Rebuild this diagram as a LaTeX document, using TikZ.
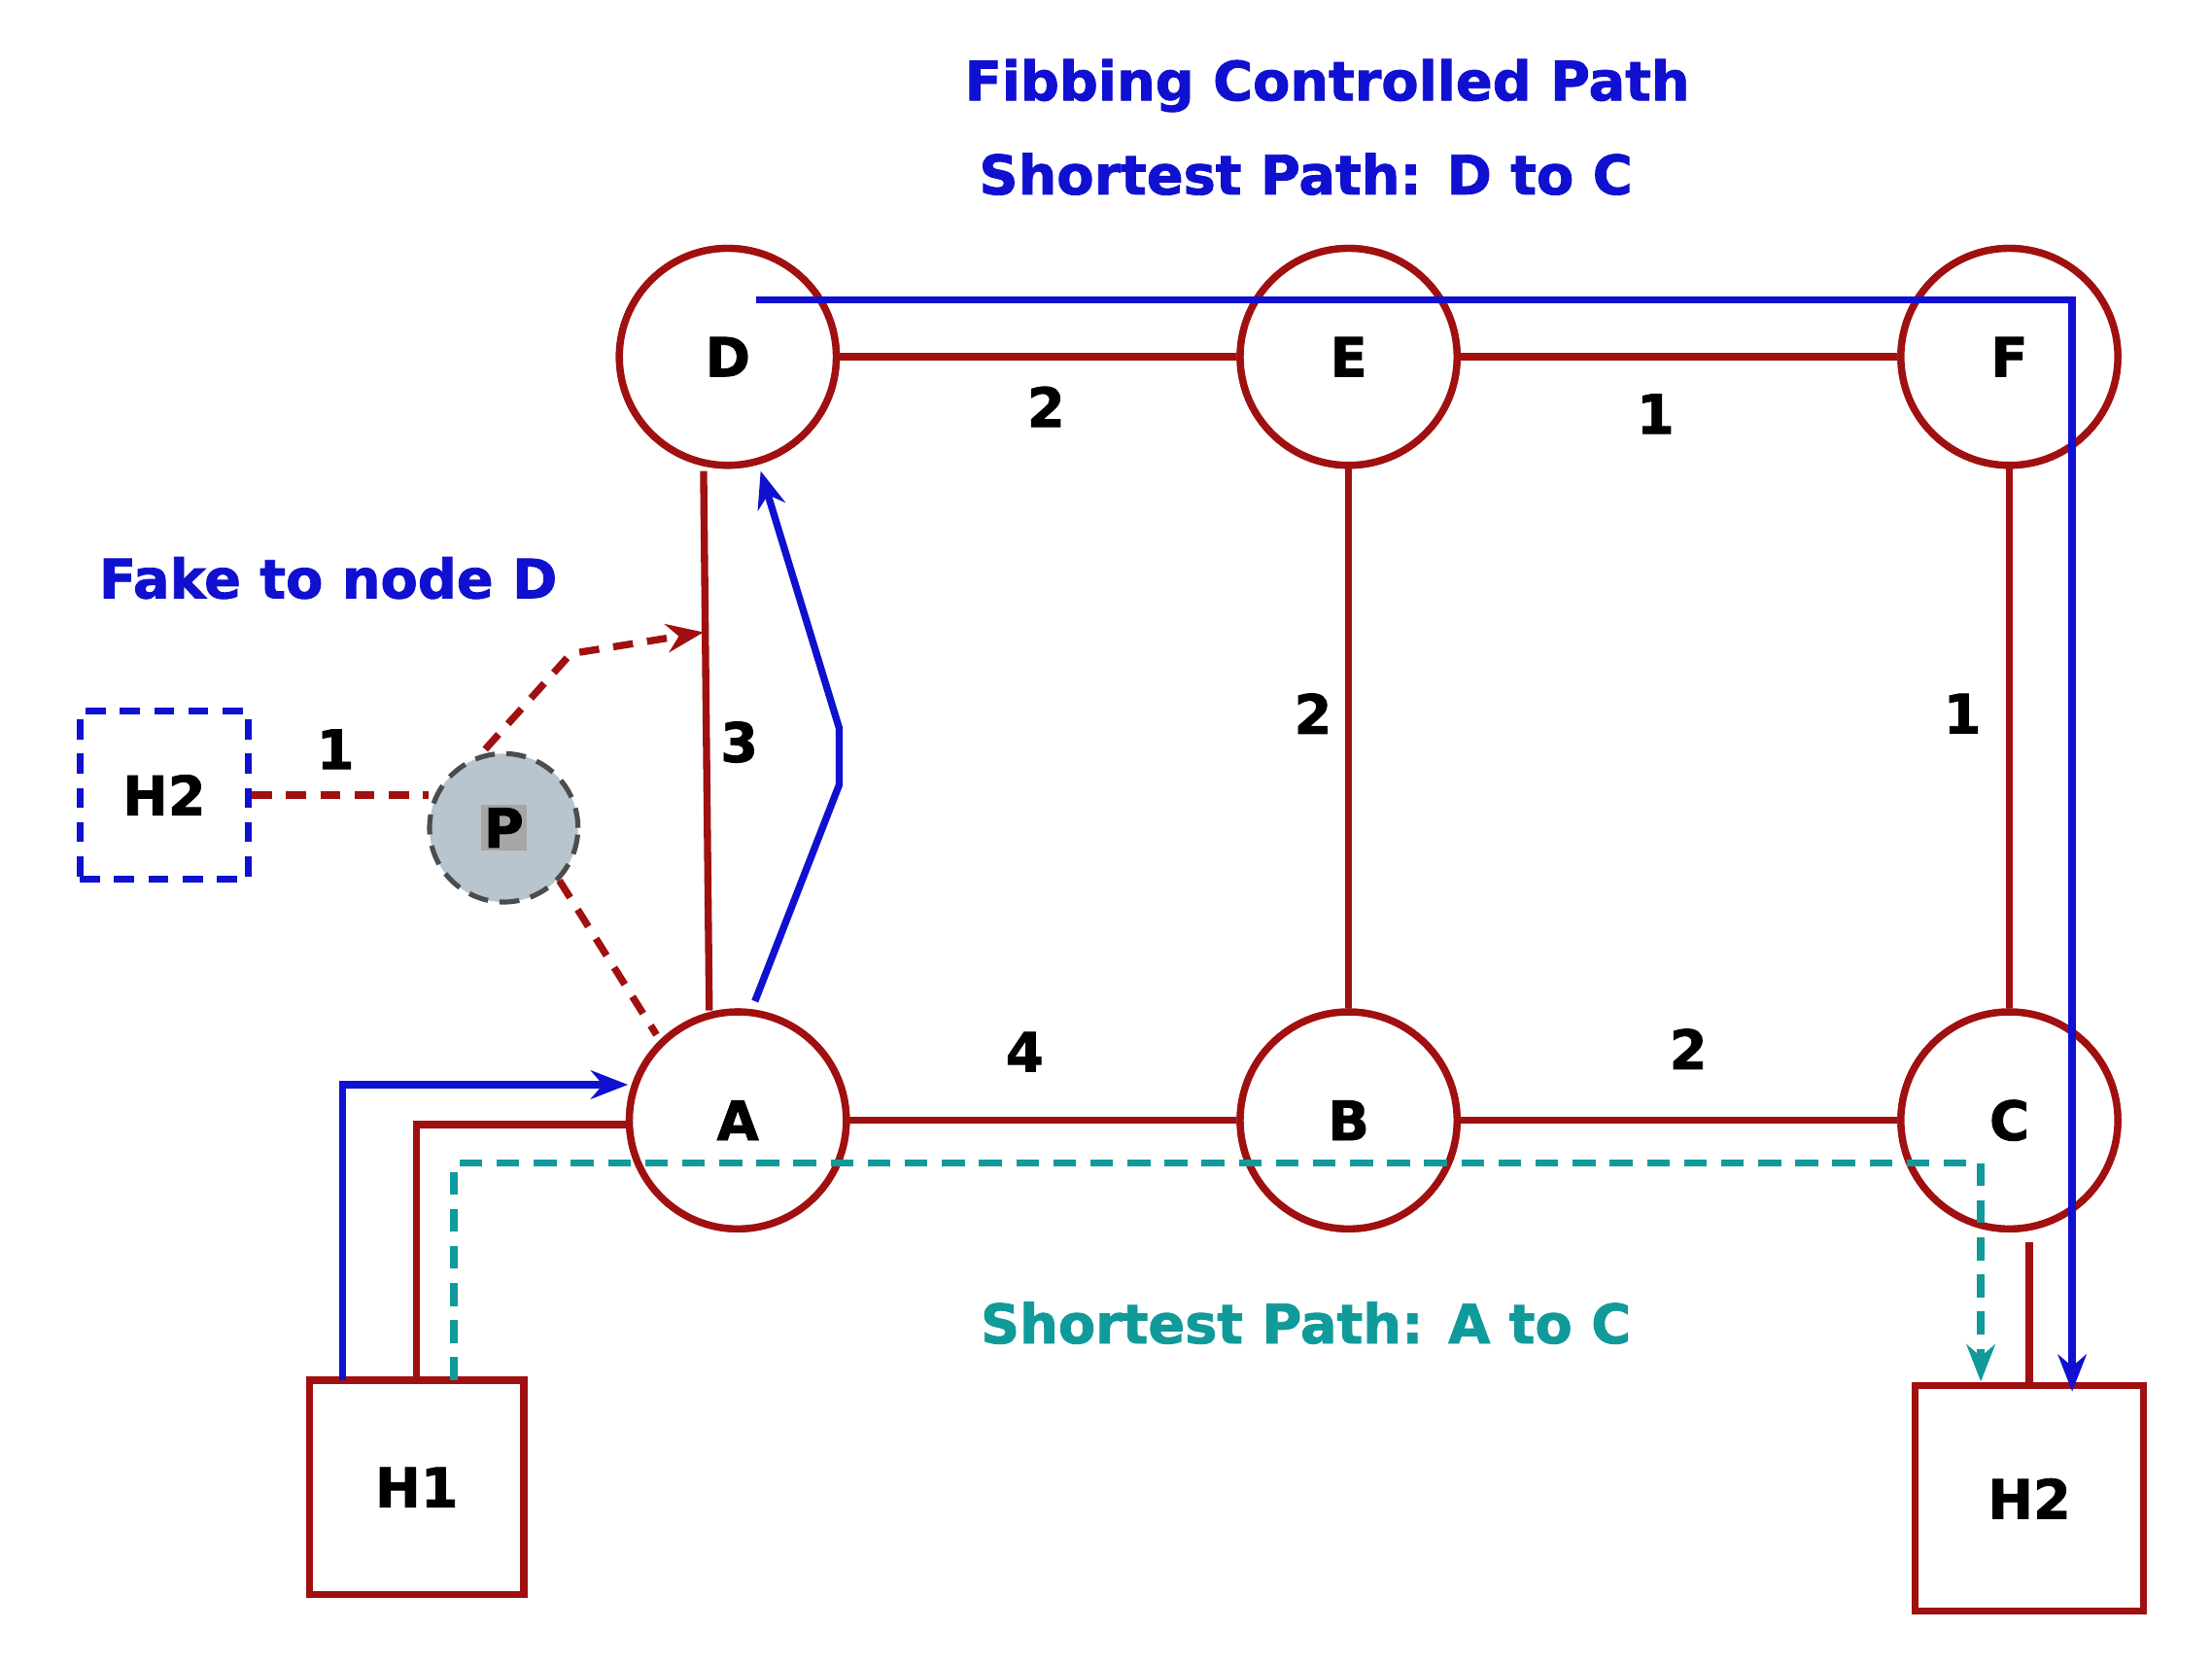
\documentclass[tikz,border=0pt]{standalone}
\usepackage{fontspec}
\setmainfont{DejaVu Sans}[BoldFeatures={FakeBold=1.5}]
\usetikzlibrary{arrows.meta}
\definecolor{dred}{HTML}{A01010}
\definecolor{bl}{HTML}{1010D0}
\definecolor{tl}{HTML}{109A9A}
\definecolor{pf}{HTML}{B8C4CE}
\begin{document}
\begin{tikzpicture}[x=1pt,y=-1pt,
  rt/.style={circle,draw=dred,line width=5pt,minimum size=152pt,fill=white,font=\fontsize{38}{38}\bfseries\selectfont},
  hb/.style={draw=dred,line width=5pt,minimum size=150pt,font=\fontsize{38}{38}\bfseries\selectfont},
  lk/.style={draw=dred,line width=5pt},
  bp/.style={draw=bl,line width=5pt,-{Stealth[length=26pt,width=20pt]}},
  lb/.style={font=\fontsize{38}{38}\bfseries\selectfont},
  tt/.style={font=\fontsize{38}{38}\bfseries\selectfont}]
\useasboundingbox (0,0) rectangle (1550,1166);
\node[rt] (D) at (510,250) {};
\node[rt] (E) at (945,250) {};
\node[rt] (F) at (1408,250) {};
\node[rt] (A) at (517,785) {};
\node[rt] (B) at (945,785) {};
\node[rt] (C) at (1408,785) {};
\draw[lk] (D) -- (E); \draw[lk] (E) -- (F);
\coordinate (da1) at (493,330); \coordinate (da2) at (497,708);
\draw[lk] (da1) -- (da2); \draw[lk] (E) -- (B); \draw[lk] (F) -- (C);
\draw[lk] (A) -- (B); \draw[lk] (B) -- (C);
\node[rt] at (D) {D}; \node[rt] at (E) {E}; \node[rt] at (F) {F};
\node[rt] at (A) {A}; \node[rt] at (B) {B}; \node[rt] at (C) {C};
\node[hb] (H1) at (292,1042) {H1};
\node[hb,minimum width=160pt,minimum height=158pt] (H2) at (1422,1050) {H2};
\node[draw=bl,line width=5pt,minimum size=118pt,dash pattern=on 14pt off 10pt,font=\fontsize{38}{38}\bfseries\selectfont] (G) at (115,557) {H2};
\node[circle,draw=black!70,fill=pf,line width=3.5pt,dash pattern=on 14pt off 8pt,minimum size=104pt] (P) at (353,580) {};
\node[fill=gray!70,inner sep=2pt,font=\fontsize{38}{38}\bfseries\selectfont] at (P) {P};
\draw[lk] (H1.north) -- (292,788) -- (A.west|-0,788);
\draw[lk] (1422,870) -- (H2.north-|1422,0);
\coordinate (d1) at (530,210);
\draw[bp] (d1) -- (1452,210) -- (1452,975);
\draw[bp] (A.north) ++(12,-5) -- (588,550) -- (588,510) -- (533,330);
\draw[bp] (240,967) -- (240,760) -- (440,760);
\draw[tl,line width=5pt,dash pattern=on 16pt off 10pt,-{Stealth[length=26pt,width=20pt]}] (318,967) -- (318,815) -- (1388,815) -- (1388,968);
\draw[dred,line width=5pt,dash pattern=on 14pt off 10pt] (G.east|-0,557) -- (300,557);
\draw[dred,line width=5pt,dash pattern=on 14pt off 10pt,-{Stealth[length=26pt,width=20pt]}] (340,525) -- (400,458) -- (493,443);
\draw[dred,line width=5pt,dash pattern=on 14pt off 10pt] (392,617) -- (460,725);
\node[lb] at (733,285) {2}; \node[lb] at (1160,290) {1};
\node[lb] at (518,520) {3}; \node[lb] at (920,500) {2};
\node[lb] at (1375,500) {1}; \node[lb] at (718,737) {4};
\node[lb] at (1183,735) {2}; \node[lb] at (235,525) {1};
\node[tt,text=bl] at (930,60) {Fibbing Controlled Path};
\node[tt,text=bl] at (915,122) {Shortest Path: D to C};
\node[tt,text=bl] at (230,405) {Fake to node D};
\node[tt,text=tl] at (915,927) {Shortest Path: A to C};
\end{tikzpicture}
\end{document}
